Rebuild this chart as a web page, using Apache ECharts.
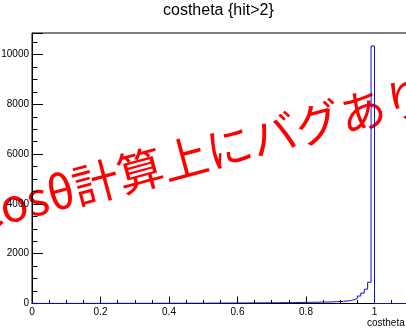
<!DOCTYPE html>
<html>
<head>
<meta charset="utf-8">
<script src="https://cdn.jsdelivr.net/npm/echarts@6/dist/echarts.min.js"></script>
<style>
  html, body { margin: 0; padding: 0; background: #ffffff; }
  #chart { width: 406px; height: 331px; }
</style>
</head>
<body>
<div id="chart"></div>
<script>
// ---- data ----
const titleText = 'costheta {hit>2}';
const xTitle = 'costheta';
const overlayText = 'cosθ計算上にバグあり';
const binLow = 0;
const binWidth = 0.01;
// bin counts for bins 0.00 ... 1.09
const counts = [
  8, 3, 4, 3, 4, 4, 3, 5, 4, 4,
  5, 4, 5, 5, 4, 6, 5, 5, 6, 5,
  6, 6, 5, 7, 6, 7, 6, 7, 8, 7,
  7, 8, 8, 7, 9, 8, 9, 9, 10, 9,
  10, 10, 11, 10, 12, 11, 12, 13, 12, 13,
  14, 14, 15, 15, 16, 17, 17, 18, 19, 20,
  20, 21, 22, 23, 24, 25, 26, 27, 28, 29,
  30, 31, 33, 34, 36, 37, 39, 40, 42, 44,
  46, 48, 50, 53, 56, 59, 63, 67, 72, 78,
  88, 100, 118, 150, 205, 300, 420, 575, 855, 10350,
  0, 0, 0, 0, 0, 0, 0, 0, 0, 0
];
const xMin = 0, xMax = 1.1, xStep = 0.2;
const yMin = 0, yMax = 10870, yStep = 2000;

// build histogram outline points (bin edges) for a step line
const pts = [[binLow, 0]];
counts.forEach((c, i) => pts.push([binLow + i * binWidth, c]));
pts.push([binLow + counts.length * binWidth, 0]);

const font = 'Liberation Sans, Arial, Helvetica, sans-serif';
const chart = echarts.init(document.getElementById('chart'), null, { renderer: 'canvas' });
chart.setOption({
  animation: false,
  backgroundColor: '#ffffff',
  title: {
    text: titleText,
    left: 163,
    top: 3,
    padding: 0,
    textStyle: { fontFamily: font, fontSize: 16, fontWeight: 'normal', color: '#000' }
  },
  grid: {
    left: 32, top: 33, width: 376.75, height: 270.5,
    containLabel: false, outerBoundsMode: 'none',
    show: true, borderColor: '#000', borderWidth: 1, backgroundColor: 'transparent'
  },
  xAxis: {
    type: 'value', min: xMin, max: xMax, interval: xStep,
    name: xTitle, nameLocation: 'end', nameGap: -4,
    nameTextStyle: { fontFamily: font, fontSize: 10, color: '#000', align: 'right', verticalAlign: 'top', padding: [15, 0, 0, 0] },
    axisLine: { show: true, onZero: false, lineStyle: { color: '#000', width: 1 } },
    axisTick: { show: true, inside: true, length: 7, lineStyle: { color: '#000' } },
    minorTick: { show: true, splitNumber: 4, length: 3.5, lineStyle: { color: '#000' } },
    splitLine: { show: false },
    axisLabel: { fontFamily: font, fontSize: 10, color: '#000', margin: 4, showMaxLabel: false,
      formatter: v => String(Math.round(v * 100) / 100) }
  },
  yAxis: {
    type: 'value', min: yMin, max: yMax, interval: yStep,
    axisLine: { show: true, onZero: false, lineStyle: { color: '#000', width: 1 } },
    axisTick: { show: true, inside: true, length: 11, lineStyle: { color: '#000' } },
    minorTick: { show: true, splitNumber: 4, length: 5.5, lineStyle: { color: '#000' } },
    splitLine: { show: false },
    axisLabel: { fontFamily: font, fontSize: 10, color: '#000', margin: 3, showMaxLabel: false,
      formatter: v => String(v) }
  },
  series: [{
    type: 'line',
    step: 'end',
    data: pts,
    showSymbol: false,
    symbol: 'none',
    lineStyle: { color: '#1010c8', width: 1 },
    z: 3
  }],
  graphic: [{
    type: 'text',
    x: 429, y: 93,
    rotation: 15 * Math.PI / 180,
    z: -10,
    silent: true,
    style: {
      text: overlayText,
      fill: '#ff0000',
      fontFamily: 'Noto Sans CJK JP, sans-serif',
      fontSize: 46,
      align: 'right',
      verticalAlign: 'middle'
    }
  }]
});
</script>
</body>
</html>
